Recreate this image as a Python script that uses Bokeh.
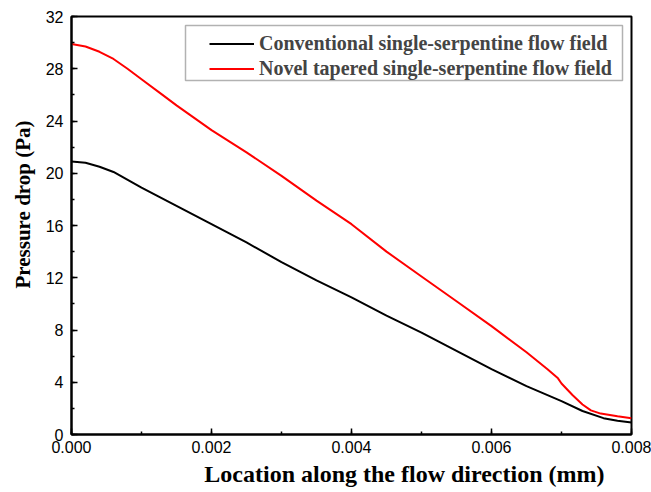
from bokeh.plotting import figure
from bokeh.models import (SingleIntervalTicker, PrintfTickFormatter, Range1d, Legend,
                          LegendItem, BoxAnnotation, Title)
from bokeh.embed import file_html
from bokeh.resources import INLINE

x_conv = [0.0, 0.0002, 0.0004, 0.0006, 0.001, 0.0015, 0.002, 0.0025, 0.003, 0.0035, 0.004, 0.0045,
          0.005, 0.0055, 0.006, 0.0065, 0.007, 0.0073, 0.0076, 0.0078, 0.008]
y_conv = [20.9, 20.8, 20.5, 20.1, 18.9, 17.5, 16.1, 14.7, 13.2, 11.8, 10.5, 9.1,
          7.8, 6.4, 5.0, 3.7, 2.55, 1.8, 1.25, 1.05, 0.92]

x_novel = [0.0, 0.0002, 0.0004, 0.0006, 0.0008, 0.001, 0.0013, 0.0015, 0.002, 0.0025, 0.003,
           0.0035, 0.004, 0.0045, 0.005, 0.0055, 0.006, 0.0065, 0.0068, 0.00695, 0.007,
           0.00716, 0.0073, 0.00742, 0.00756, 0.0078, 0.008]
y_novel = [29.9, 29.7, 29.3, 28.75, 28.0, 27.2, 26.0, 25.2, 23.3, 21.6, 19.8,
           17.9, 16.1, 14.0, 12.1, 10.2, 8.3, 6.3, 5.0, 4.3, 3.9,
           3.0, 2.3, 1.85, 1.6, 1.4, 1.25]

label_conv = "Conventional single-serpentine flow field"
label_novel = "Novel tapered single-serpentine flow field"
x_title = "Location along the flow direction (mm)"
y_title = "Pressure drop (Pa)"

p = figure(width=651, height=492, output_backend="svg", toolbar_location=None,
           x_range=Range1d(0, 0.008), y_range=Range1d(0, 32),
           min_border_left=69, min_border_right=20, min_border_top=16, min_border_bottom=58)

r1 = p.line(x_conv, y_conv, line_color="black", line_width=2)
r2 = p.line(x_novel, y_novel, line_color="red", line_width=2)

p.xgrid.visible = False
p.ygrid.visible = False
p.outline_line_color = "black"
p.outline_line_width = 2
p.background_fill_color = "white"
p.border_fill_color = "white"

p.xaxis.ticker = SingleIntervalTicker(interval=0.002, num_minor_ticks=2)
p.yaxis.ticker = SingleIntervalTicker(interval=4, num_minor_ticks=2)
p.xaxis.formatter = PrintfTickFormatter(format="%.3f")

for ax in (p.xaxis[0], p.yaxis[0]):
    ax.axis_line_color = "black"
    ax.axis_line_width = 2
    ax.major_tick_in = 6
    ax.major_tick_out = 0
    ax.minor_tick_in = 3
    ax.minor_tick_out = 0
    ax.major_tick_line_width = 1.5
    ax.minor_tick_line_width = 1.5
    ax.major_label_text_font = "Liberation Sans"
    ax.major_label_text_font_size = "16px"
    ax.major_label_text_color = "black"

p.xaxis.major_label_standoff = 6
p.yaxis.major_label_standoff = 8

# axis titles, off-centre as in the reference
xt = Title(text=x_title, align="right", offset=27, standoff=7,
           text_font="Liberation Serif", text_font_style="bold",
           text_font_size="24px", text_color="black")
yt = Title(text=y_title, align="right", offset=104, standoff=16,
           text_font="Liberation Serif", text_font_style="bold",
           text_font_size="21px", text_color="black")
p.add_layout(xt, "below")
p.add_layout(yt, "left")

box = BoxAnnotation(left=114, right=551, top=409, bottom=354,
                    left_units="screen", right_units="screen",
                    top_units="screen", bottom_units="screen",
                    fill_color="white", fill_alpha=1.0,
                    line_color="black", line_width=1.5)
p.add_layout(box)

legend = Legend(items=[LegendItem(label=label_conv, renderers=[r1]),
                       LegendItem(label=label_novel, renderers=[r2])],
                location=(138, 353))
legend.margin = 0
legend.padding = 0
legend.spacing = 0
legend.glyph_width = 45
legend.glyph_height = 25
legend.label_height = 25
legend.label_standoff = 5
legend.label_text_font = "Liberation Serif"
legend.label_text_font_style = "bold"
legend.label_text_font_size = "20px"
legend.border_line_color = None
legend.background_fill_alpha = 0
p.add_layout(legend)

open("out.html", "w").write(file_html(p, INLINE))
